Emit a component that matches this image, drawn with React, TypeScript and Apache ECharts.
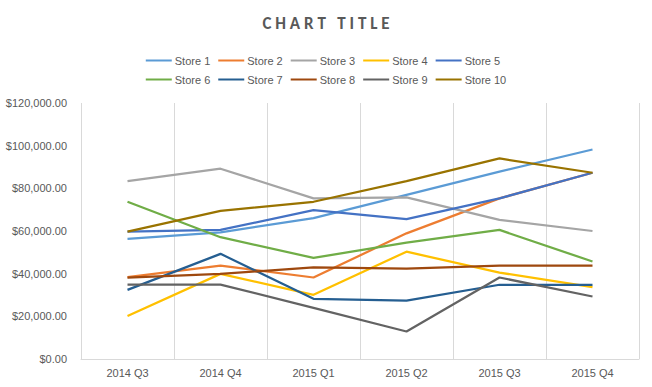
import React, { useEffect, useRef } from "react";
import * as echarts from "echarts";

const categories = ["2014 Q3", "2014 Q4", "2015 Q1", "2015 Q2", "2015 Q3", "2015 Q4"];
const storeNames = ["Store 1", "Store 2", "Store 3", "Store 4", "Store 5", "Store 6", "Store 7", "Store 8", "Store 9", "Store 10"];
const store1 = [56300, 59400, 66000, 76900, 87800, 98200];
const store2 = [38400, 43800, 38200, 58900, 75300, 87300];
const store3 = [83400, 89200, 75300, 75800, 65200, 60000];
const store4 = [20200, 39900, 30100, 50300, 40500, 33700];
const store5 = [59700, 60500, 69800, 65600, 75300, 87300];
const store6 = [73700, 57100, 47400, 54500, 60500, 45700];
const store7 = [32400, 49300, 28200, 27400, 34800, 34800];
const store8 = [38200, 39900, 42900, 42400, 43800, 43800];
const store9 = [34900, 34900, 24000, 12900, 38200, 29300];
const store10 = [59700, 69400, 73700, 83400, 94000, 87300];
const storeData = [store1, store2, store3, store4, store5, store6, store7, store8, store9, store10];
const colors = ["#5B9BD5", "#ED7D31", "#A5A5A5", "#FFC000", "#4472C4", "#70AD47", "#255E91", "#9E480E", "#636363", "#997300"];

export default function App() {
  const ref = useRef<HTMLDivElement>(null);
  useEffect(() => {
    const chart = echarts.init(ref.current!, null, { renderer: "svg" });
    chart.setOption({
      animation: false,
      color: colors,
      title: {
        text: "C H A R T   T I T L E",
        left: "center",
        top: 10,
        textStyle: { fontFamily: "Calibri, Carlito, 'Liberation Sans', sans-serif", fontSize: 17, fontWeight: "bold", color: "#595959" },
      },
      legend: {
        data: storeNames,
        left: "center",
        top: 50,
        width: 410,
        itemGap: 8,
        itemWidth: 26,
        itemHeight: 2,
        icon: "rect",
        textStyle: { fontFamily: "'Liberation Sans', sans-serif", fontSize: 11, color: "#595959", padding: [0, 0, 0, -2] },
      },
      grid: { left: 81, right: 13, top: 103, bottom: 28 },
      xAxis: {
        type: "category",
        data: categories,
        boundaryGap: true,
        axisLine: { lineStyle: { color: "#D9D9D9" } },
        axisTick: { show: false },
        axisLabel: { color: "#595959", fontSize: 11, fontFamily: "'Liberation Sans', sans-serif", margin: 8 },
        splitLine: { show: true, lineStyle: { color: "#D9D9D9" } },
      },
      yAxis: {
        type: "value",
        min: 0,
        max: 120000,
        interval: 20000,
        axisLine: { show: false },
        axisTick: { show: false },
        splitLine: { show: false },
        axisLabel: {
          color: "#595959",
          fontSize: 11,
          fontFamily: "'Liberation Sans', sans-serif",
          margin: 14,
          formatter: (v: number) => "$" + v.toLocaleString("en-US", { minimumFractionDigits: 2, maximumFractionDigits: 2 }),
        },
      },
      series: storeNames.map((name, i) => ({
        name,
        type: "line",
        data: storeData[i],
        symbol: "none",
        lineStyle: { width: 2.25 },
      })),
    });
    return () => chart.dispose();
  }, []);
  return <div ref={ref} style={{ width: 652, height: 387, position: "absolute", left: 0, top: 0 }} />;
}
